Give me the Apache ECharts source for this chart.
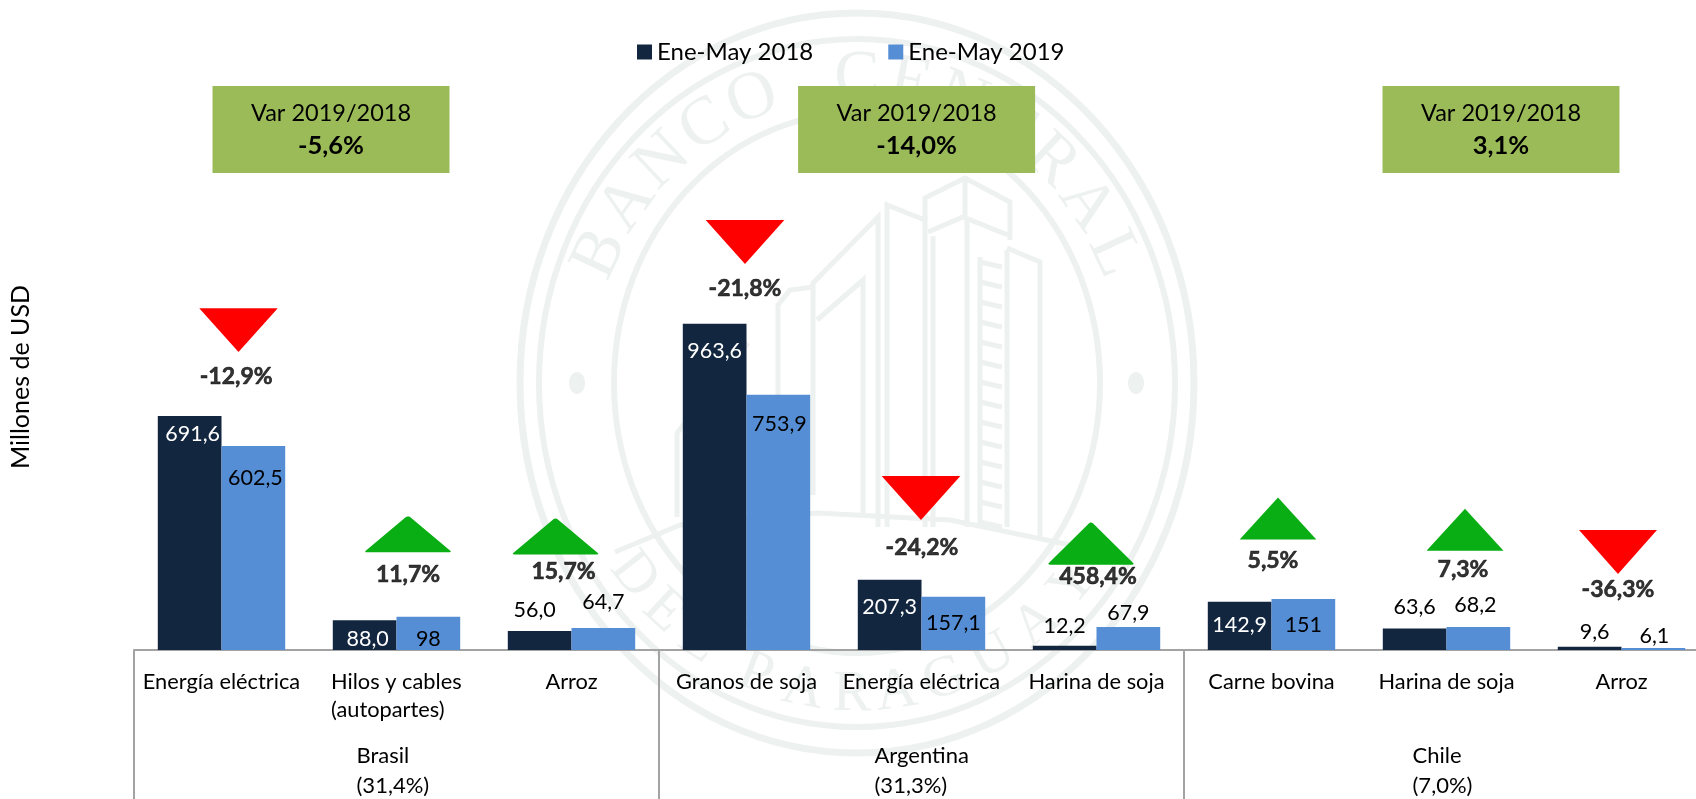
<!DOCTYPE html>
<html><head><meta charset="utf-8">
<script src="https://cdn.jsdelivr.net/npm/echarts@6/dist/echarts.min.js"></script>
<style>html,body{margin:0;padding:0;background:#fff}#c{width:1696px;height:799px}</style>
</head><body><div id="c"></div>
<script>
const categories = ['Energía eléctrica','Hilos y cables\n(autopartes)','Arroz','Granos de soja','Energía eléctrica','Harina de soja','Carne bovina','Harina de soja','Arroz'];
const groups = ['Brasil\n(31,4%)','Argentina\n(31,3%)','Chile\n(7,0%)'];
const seriesNames = ['Ene-May 2018','Ene-May 2019'];
const values2018 = [691.6,88.0,56.0,963.6,207.3,12.2,142.9,63.6,9.6];
const values2019 = [602.5,98,64.7,753.9,157.1,67.9,151,68.2,6.1];
const labels2018 = ['691,6','88,0','56,0','963,6','207,3','12,2','142,9','63,6','9,6'];
const labels2019 = ['602,5','98','64,7','753,9','157,1','67,9','151','68,2','6,1'];
const changes = ['-12,9%','11,7%','15,7%','-21,8%','-24,2%','458,4%','5,5%','7,3%','-36,3%'];
const boxTitles = ['Var 2019/2018','Var 2019/2018','Var 2019/2018'];
const boxValues = ['-5,6%','-14,0%','3,1%'];

// Label and annotation placement (separate from the data)
const shift2018 = [[3,29],[3,30],[-5,-10],[0,38],[0,38],[0,-9],[0,34],[0,-10],[5,-4]];
const shift2019 = [[2,43],[0,33],[0,-15],[1,40],[0,37],[0,-3],[0,37],[-3,-11],[1,-1]];
const lightText2018 = [true,true,false,true,true,false,true,false,false];
const arrowLevels = [945,341.5,335,1205,449,314,388.5,355.5,289.5];
const arrowShift = [17,11.5,-16,-1.5,-0.5,-5.5,6.5,18.5,-3.5];
const arrowSize = [[78.5,43.7],[81,34],[81,34],[78.7,44],[78.7,44],[81,40],[76.7,42],[77,42],[78,44]];
const arrowRound = [false,true,true,false,false,true,false,false,false];
const changeShift = [[-2.3,46.7],[0,40.6],[8,34.5],[0,46],[1,49.7],[7,33],[-5,42.2],[-2,39.6],[0,38]];
const boxCentres = [331,916.6,1501];

const FONT = 'Lato';
const DARK = '#12263F', BLUE = '#558ED5', RED = '#FF0000', GREEN = '#09AE14', GREY = '#A3A3A3', BOX = '#9BBB59', MARK = '#EDF1EF';

function wm() {
  const cx = 857, cy = 383, els = [];
  [[337,370,7],[318,344,6],[243,270,6]].forEach(r => els.push({type:'ellipse',z:0,shape:{cx,cy,rx:r[0],ry:r[1]},style:{fill:'none',stroke:MARK,lineWidth:r[2]}}));
  [[577],[1136]].forEach(p => els.push({type:'ellipse',z:0,shape:{cx:p[0],cy,rx:8,ry:11},style:{fill:MARK}}));
  const top = 'BANCO CENTRAL'.split('');
  top.forEach((ch,i) => { const a = (-65 + i*130/(top.length-1))*Math.PI/180;
    els.push({type:'text',z:0,x:cx+283*Math.sin(a),y:cy-305*Math.cos(a),rotation:-a,style:{text:ch,font:'68px "Liberation Serif"',fill:MARK,align:'center',verticalAlign:'middle'}}); });
  [['D',-52],['E',-43],['L',-34],['P',-21],['A',-11],['R',-1],['A',8],['G',18],['U',28.7],['A',39.5],['Y',50]].forEach(([ch,d]) => { const a = d*Math.PI/180;
    els.push({type:'text',z:0,x:cx+283*Math.sin(a),y:cy+312*Math.cos(a),rotation:a,style:{text:ch,font:'58px "Liberation Serif"',fill:MARK,align:'center',verticalAlign:'middle'}}); });
  const lines = [
    [[925,527],[925,198],[965,178],[1010,202],[1010,240]],
    [[928,232],[963,217],[1008,235]],
    [[965,178],[965,217]],
    [[933,236],[933,527]],[[967,217],[967,527]],
    [[887,527],[887,205],[925,220]],
    [[878,527],[878,217],[813,283],[813,495]],
    [[863,517],[863,280],[817,320]],
    [[980,257],[980,527]],[[1007,250],[1007,527]],[[1007,248],[1040,262],[1040,537]],
    [[813,287],[790,290],[778,305],[778,420]],
    [[677,517],[677,433],[748,343]],
    [[615,552],[680,525],[817,513],[950,520],[1080,547]]
  ];
  for (let y = 262; y < 525; y += 20) lines.push([[980,y],[1002,y+5]]);
  lines.forEach(p => els.push({type:'polyline',z:0,shape:{points:p},style:{fill:'none',stroke:MARK,lineWidth:5}}));
  return els;
}

function boxes() {
  const els = [];
  boxCentres.forEach((c,i) => {
    els.push({type:'rect',z:1,shape:{x:c-118.5,y:86,width:237,height:87},style:{fill:BOX}});
    els.push({type:'text',z:2,x:c,y:113.5,style:{text:boxTitles[i],font:'23.5px '+FONT,fill:'#000',align:'center',verticalAlign:'middle'}});
    els.push({type:'text',z:2,x:c,y:146,style:{text:boxValues[i],font:'bold 25.5px '+FONT,fill:'#000',align:'center',verticalAlign:'middle'}});
  });
  els.push({type:'text',z:2,x:21,y:377,rotation:Math.PI/2,style:{text:'Millones de USD',font:'25px '+FONT,fill:'#000',align:'center',verticalAlign:'middle'}});
  return els;
}

function barData(vals, labs, shift, light) {
  return vals.map((v,i) => ({value:v,label:{formatter:labs[i],offset:shift[i],color:light && light[i] ? '#fff' : '#000'}}));
}

const chart = echarts.init(document.getElementById('c'), null, {renderer:'canvas'});
chart.setOption({
  animation:false,
  backgroundColor:'#fff',
  textStyle:{fontFamily:FONT},
  legend:{data:seriesNames,left:637,top:40,padding:0,icon:'rect',itemWidth:15,itemHeight:15,itemGap:75,textStyle:{fontFamily:FONT,fontSize:24,color:'#000'}},
  grid:{left:134,top:142.25,width:1575,height:507.75,containLabel:false,outerBoundsMode:'none'},
  xAxis:[
    {type:'category',data:categories,position:'bottom',axisLine:{lineStyle:{color:GREY,width:2}},axisTick:{show:false},
     axisLabel:{interval:0,margin:18,fontFamily:FONT,fontSize:21.8,color:'#000',lineHeight:28,
       formatter:v=>v.includes('\n')?v.split('\n').map(s=>'{l|'+s+'}').join('\n'):v,
       rich:{l:{width:131,align:'left',fontFamily:FONT,fontSize:21.8,lineHeight:28,color:'#000'}}}},
    {type:'category',data:groups,position:'bottom',axisLine:{show:false},axisTick:{show:true,length:150,lineStyle:{color:GREY,width:2}},
     axisLabel:{interval:0,margin:91,color:'#000',
       formatter:v=>{const k=v.startsWith('Brasil')?'b':v.startsWith('Arg')?'a':'c';return v.split('\n').map(s=>'{'+k+'|'+s+'}').join('\n');},
       rich:{b:{width:80,align:'left',fontFamily:FONT,fontSize:22,lineHeight:30,color:'#000'},
             a:{width:94,align:'left',fontFamily:FONT,fontSize:22,lineHeight:30,color:'#000'},
             c:{width:68,align:'left',fontFamily:FONT,fontSize:22,lineHeight:30,color:'#000'}}}}
  ],
  yAxis:{type:'value',min:0,max:1500,show:false,splitLine:{show:false}},
  series:[
    {name:seriesNames[0],type:'bar',barWidth:63.7,barGap:0,itemStyle:{color:DARK},
     label:{show:true,position:'top',distance:0,fontFamily:FONT,fontSize:21.5},
     data:barData(values2018,labels2018,shift2018,lightText2018)},
    {name:seriesNames[1],type:'bar',barWidth:63.7,barGap:0,itemStyle:{color:BLUE},
     label:{show:true,position:'top',distance:0,fontFamily:FONT,fontSize:21.5},
     data:barData(values2019,labels2019,shift2019,null)},
    {name:'flechas',type:'scatter',clip:false,silent:true,z:4,
     data:arrowLevels.map((v,i)=>{const down=changes[i].startsWith('-');const c=down?RED:GREEN;return {value:v,symbol:'triangle',symbolSize:arrowSize[i],symbolRotate:down?180:0,symbolOffset:[arrowShift[i],0],
       itemStyle:{color:c,opacity:1,borderColor:c,borderWidth:arrowRound[i]?3:0,borderJoin:'round'}};})},
    {name:'variación',type:'scatter',clip:false,silent:true,z:5,symbol:'circle',symbolSize:1,itemStyle:{color:'transparent'},
     data:arrowLevels.map((v,i)=>({value:v,label:{show:true,position:'inside',formatter:changes[i],
       offset:[arrowShift[i]+changeShift[i][0],changeShift[i][1]],fontFamily:FONT,fontSize:23,fontWeight:'bold',color:'#000',textBorderColor:'#000',textBorderWidth:0.6}}))}
  ],
  graphic:{elements:wm().concat(boxes())}
});
</script></body></html>
